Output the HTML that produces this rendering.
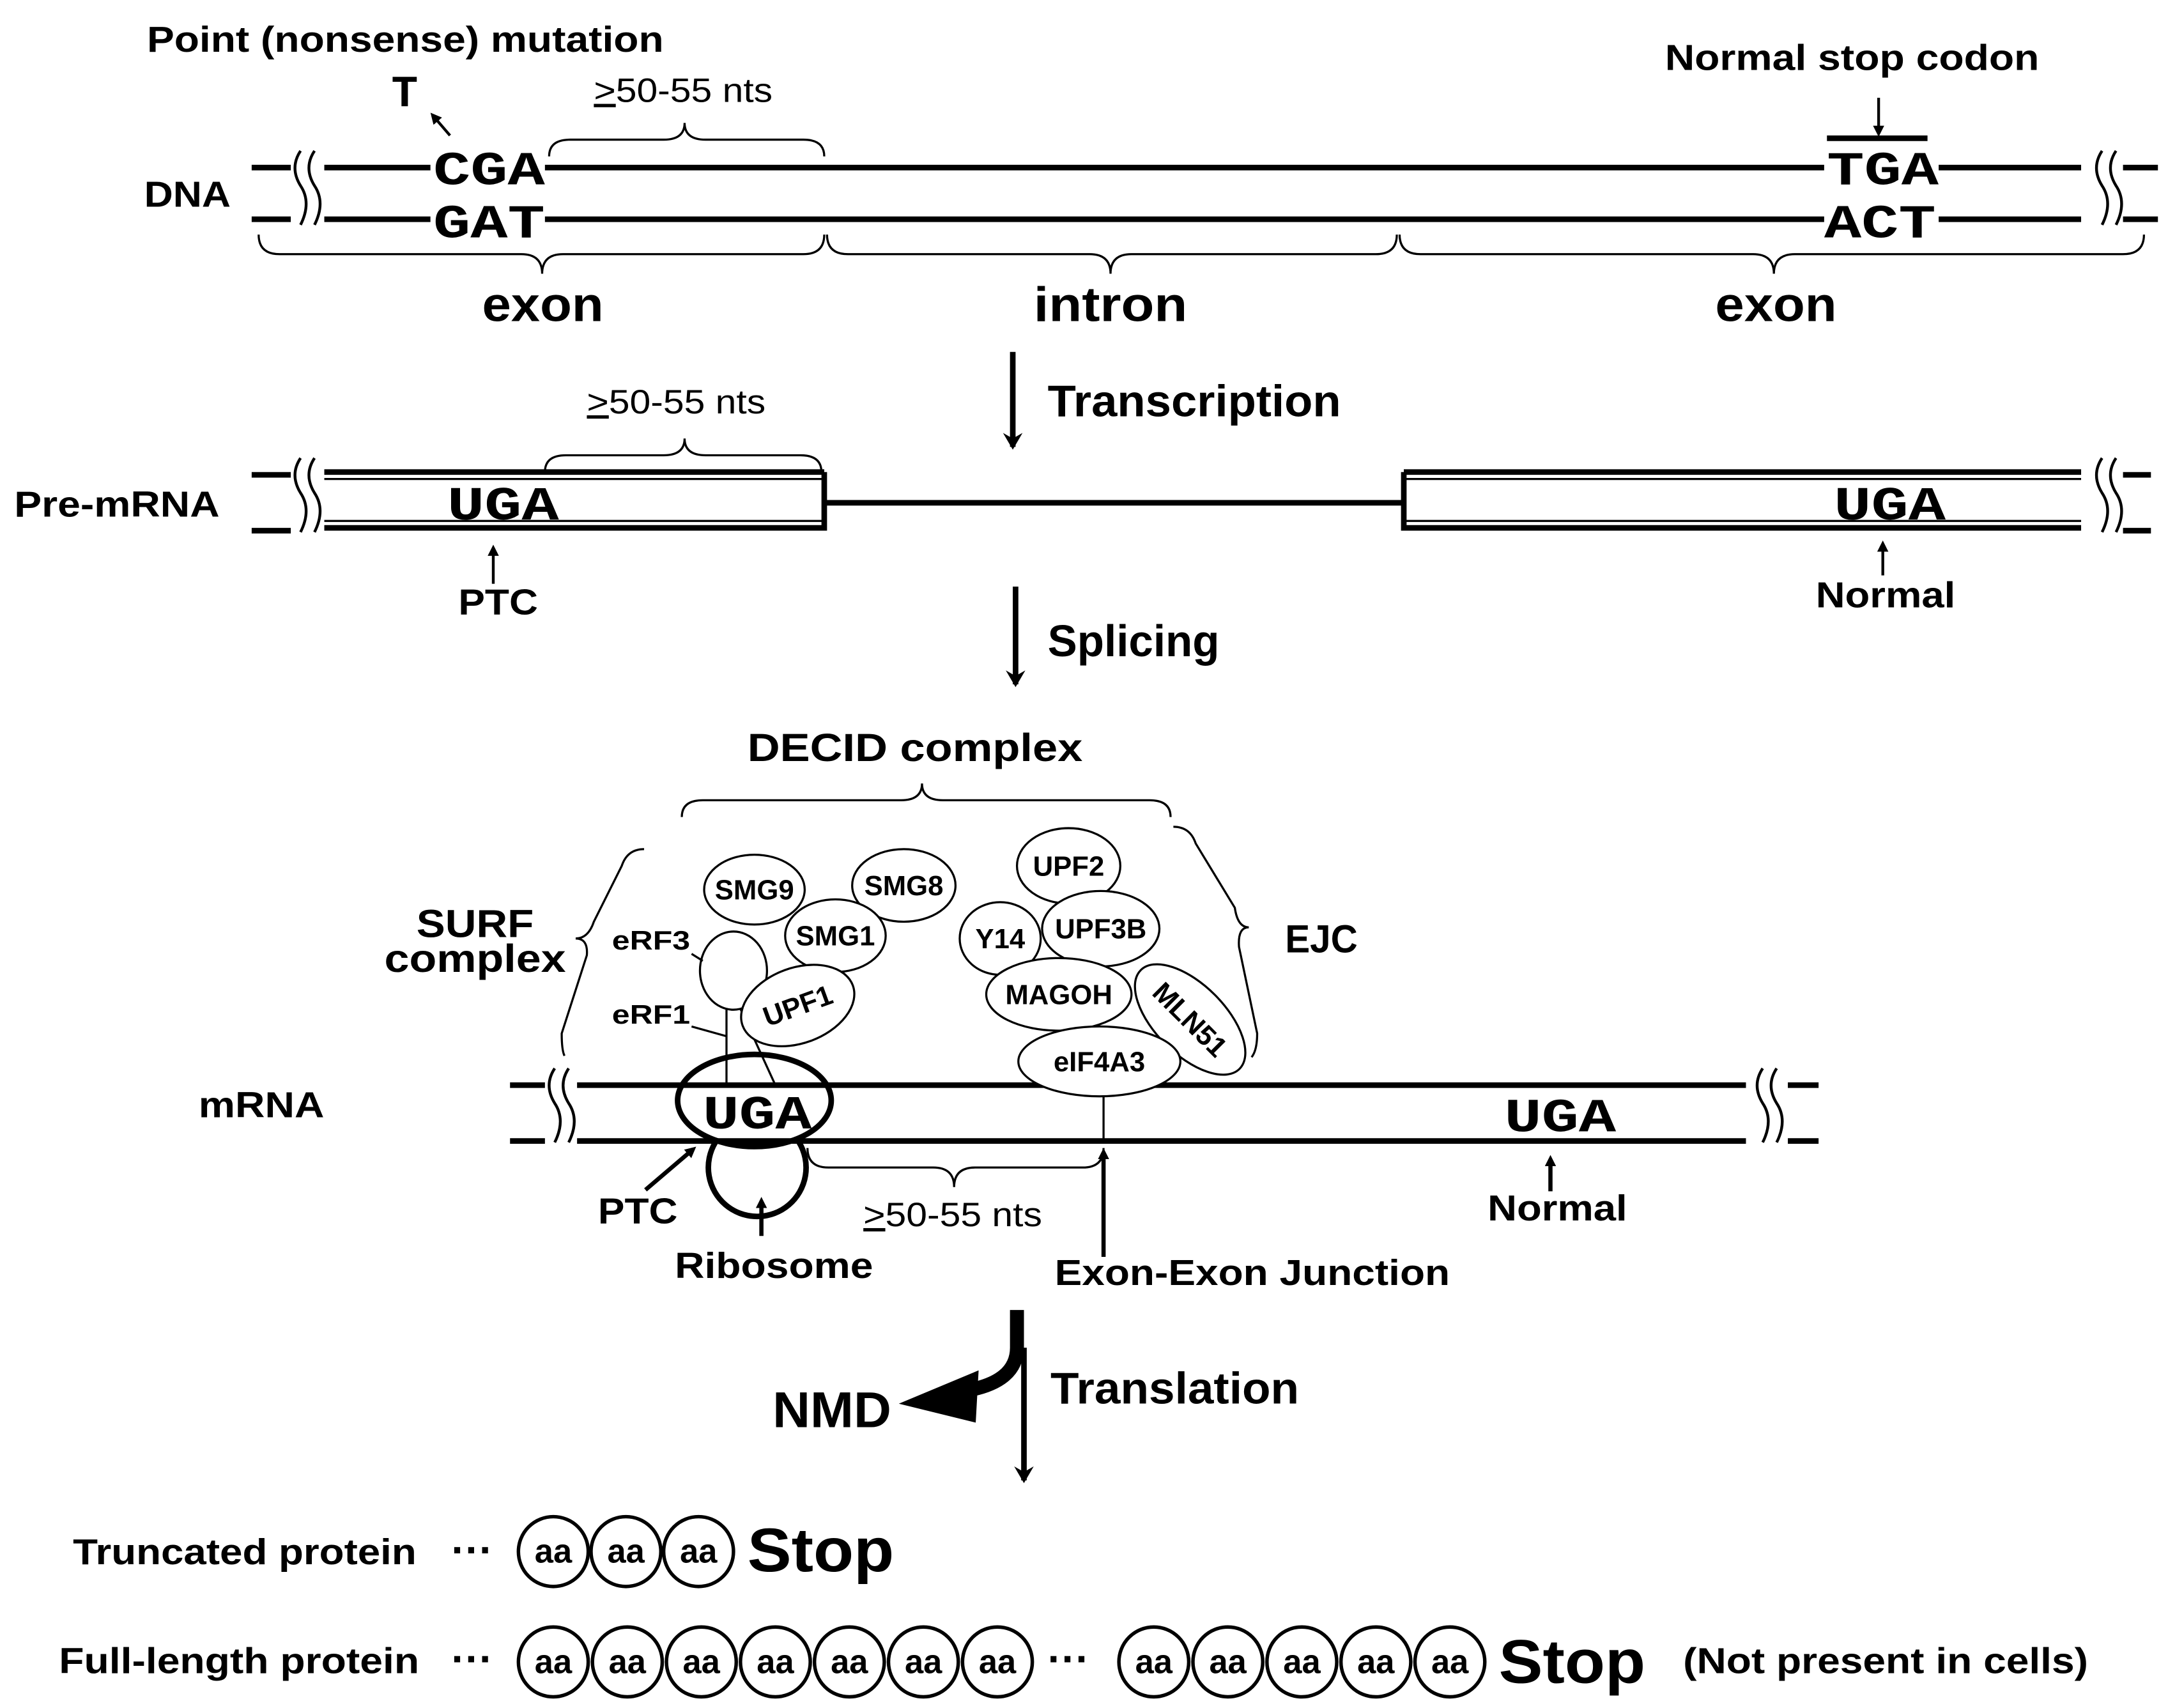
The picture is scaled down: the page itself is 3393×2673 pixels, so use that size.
<!DOCTYPE html>
<html><head><meta charset="utf-8"><style>html,body{margin:0;padding:0;background:#fff}svg{display:block}
text{font-family:"Liberation Sans",sans-serif;font-weight:bold;fill:#000}
.m{font-family:"Liberation Mono",monospace;font-weight:bold}
.n{font-weight:normal}</style></head><body>
<svg width="3393" height="2673" viewBox="0 0 1552 1223" xmlns="http://www.w3.org/2000/svg">
<defs><marker id="a" markerWidth="8" markerHeight="8" refX="5" refY="4" orient="auto" markerUnits="userSpaceOnUse"><path d="M0,0 L8,4 L0,8 Z" fill="#000"/></marker>
<marker id="b" markerWidth="14" markerHeight="14" refX="10" refY="7" orient="auto" markerUnits="userSpaceOnUse"><path d="M0,0 L12,7 L0,14 L4,7Z" fill="#000"/></marker></defs>
<g stroke="#000" fill="none">
<!-- DNA -->
<line x1="180" y1="120" x2="208" y2="120" stroke-width="4"/><line x1="232" y1="120" x2="1490" y2="120" stroke-width="4"/><line x1="1520" y1="120" x2="1545" y2="120" stroke-width="4"/>
<line x1="180" y1="157" x2="208" y2="157" stroke-width="4"/><line x1="232" y1="157" x2="1490" y2="157" stroke-width="4"/><line x1="1520" y1="157" x2="1545" y2="157" stroke-width="4"/>
<path d="M215,108 q-8,12 0,25 q8,12 0,28 M225,108 q-8,12 0,25 q8,12 0,28" stroke-width="2"/>
<path d="M1505,108 q-8,12 0,25 q8,12 0,28 M1515,108 q-8,12 0,25 q8,12 0,28" stroke-width="2"/>
<rect x="308" y="104" width="82" height="30" fill="#fff" stroke="none"/><rect x="308" y="141" width="82" height="30" fill="#fff" stroke="none"/>
<rect x="1306" y="104" width="82" height="30" fill="#fff" stroke="none"/><rect x="1306" y="141" width="82" height="30" fill="#fff" stroke="none"/>
<line x1="1308" y1="99" x2="1380" y2="99" stroke-width="4"/>
<line x1="1345" y1="70" x2="1345" y2="95" stroke-width="2" marker-end="url(#a)"/>
<line x1="322" y1="97" x2="310" y2="83" stroke-width="2" marker-end="url(#a)"/>
<path d="M393,112 q0,-12 15,-12 h67 q15,0 15,-12 q0,12 15,12 h70 q15,0 15,12" stroke-width="1.5"/>
<path d="M185,168 q0,14 15,14 h173 q15,0 15,14 q0,-14 15,-14 h172 q15,0 15,-14" stroke-width="1.5"/>
<path d="M592,168 q0,14 15,14 h173 q15,0 15,14 q0,-14 15,-14 h175 q15,0 15,-14" stroke-width="1.5"/>
<path d="M1002,168 q0,14 15,14 h238 q15,0 15,14 q0,-14 15,-14 h235 q15,0 15,-14" stroke-width="1.5"/>
<line x1="725" y1="252" x2="725" y2="320" stroke-width="4" marker-end="url(#b)"/>
<!-- Pre-mRNA -->
<line x1="180" y1="340" x2="208" y2="340" stroke-width="4"/><line x1="180" y1="380" x2="208" y2="380" stroke-width="4"/>
<line x1="1520" y1="340" x2="1540" y2="340" stroke-width="4"/><line x1="1520" y1="380" x2="1540" y2="380" stroke-width="4"/>
<path d="M215,328 q-8,12 0,25 q8,12 0,28 M225,328 q-8,12 0,25 q8,12 0,28" stroke-width="2"/>
<path d="M1505,328 q-8,12 0,25 q8,12 0,28 M1515,328 q-8,12 0,25 q8,12 0,28" stroke-width="2"/>
<line x1="232" y1="338" x2="590" y2="338" stroke-width="4"/><line x1="232" y1="343" x2="590" y2="343" stroke-width="1.5"/>
<line x1="232" y1="378" x2="590" y2="378" stroke-width="4"/><line x1="232" y1="373" x2="590" y2="373" stroke-width="1.5"/>
<line x1="590" y1="338" x2="590" y2="380" stroke-width="4"/>
<line x1="590" y1="360" x2="1005" y2="360" stroke-width="4"/>
<line x1="1005" y1="338" x2="1005" y2="380" stroke-width="4"/>
<line x1="1005" y1="338" x2="1490" y2="338" stroke-width="4"/><line x1="1005" y1="343" x2="1490" y2="343" stroke-width="1.5"/>
<line x1="1005" y1="378" x2="1490" y2="378" stroke-width="4"/><line x1="1005" y1="373" x2="1490" y2="373" stroke-width="1.5"/>
<path d="M390,338 q0,-12 15,-12 h70 q15,0 15,-12 q0,12 15,12 h68 q15,0 15,12" stroke-width="1.5"/>
<line x1="353" y1="418" x2="353" y2="393" stroke-width="2" marker-end="url(#a)"/>
<line x1="1348" y1="412" x2="1348" y2="390" stroke-width="2" marker-end="url(#a)"/>
<line x1="727" y1="420" x2="727" y2="490" stroke-width="4" marker-end="url(#b)"/>
<!-- complex braces -->
<path d="M488,585 q0,-12 15,-12 h142 q15,0 15,-12 q0,12 15,12 h148 q15,0 15,12" stroke-width="1.5"/>
<path d="M461,608 q-12,0 -16,12 L425,660 q-4,12 -13,12 q9,0 8,12 L402,740 q0,12 2,16" stroke-width="1.5"/>
<path d="M840,592 q12,0 16,12 L884,650 q2,14 10,14 q-8,0 -7,14 L900,740 q0,12 -4,17" stroke-width="1.5"/>
<!-- mRNA -->
<line x1="365" y1="777" x2="390" y2="777" stroke-width="4"/><line x1="365" y1="817" x2="390" y2="817" stroke-width="4"/>
<line x1="1280" y1="777" x2="1302" y2="777" stroke-width="4"/><line x1="1280" y1="817" x2="1302" y2="817" stroke-width="4"/>
<path d="M397,765 q-8,12 0,25 q8,12 0,28 M407,765 q-8,12 0,25 q8,12 0,28" stroke-width="2"/>
<path d="M1262,765 q-8,12 0,25 q8,12 0,28 M1272,765 q-8,12 0,25 q8,12 0,28" stroke-width="2"/>
<line x1="413" y1="777" x2="1250" y2="777" stroke-width="4"/><line x1="413" y1="817" x2="1250" y2="817" stroke-width="4"/>
<path d="M512,818 A35,35 0 1,0 572,818" stroke-width="4"/>
<ellipse cx="540" cy="788" rx="55" ry="33" stroke-width="4"/>
<line x1="520" y1="720" x2="520" y2="777" stroke-width="1.5"/>
<path d="M528,718 L555,777" stroke-width="1.5"/>
<ellipse cx="525" cy="695" rx="24" ry="28" stroke-width="1.5" fill="#fff"/>
<line x1="495" y1="683" x2="503" y2="688" stroke-width="1.5"/><line x1="495" y1="735" x2="520" y2="742" stroke-width="1.5"/>
<line x1="790" y1="780" x2="790" y2="817" stroke-width="1.5"/>
<path d="M578,822 q0,14 15,14 h75 q15,0 15,14 q0,-14 15,-14 h77 q15,0 15,-14" stroke-width="1.5"/>
<line x1="462" y1="852" x2="496" y2="823" stroke-width="3" marker-end="url(#a)"/>
<line x1="545" y1="885" x2="545" y2="860" stroke-width="3" marker-end="url(#a)"/>
<line x1="790" y1="900" x2="790" y2="825" stroke-width="3" marker-end="url(#a)"/>
<line x1="1110" y1="853" x2="1110" y2="830" stroke-width="3" marker-end="url(#a)"/>
<!-- ellipses -->
<g stroke-width="1.5" fill="#fff">
<ellipse cx="540" cy="637" rx="36" ry="25"/><ellipse cx="647" cy="634" rx="37" ry="26"/>
<ellipse cx="598" cy="670" rx="36" ry="26"/><ellipse cx="765" cy="620" rx="37" ry="27"/>
<ellipse cx="716" cy="672" rx="29" ry="26"/><ellipse cx="788" cy="665" rx="42" ry="27"/>
<ellipse cx="758" cy="712" rx="52" ry="26"/>
<ellipse cx="852" cy="730" rx="50" ry="25" transform="rotate(45 852 730)"/>
<ellipse cx="571" cy="720" rx="42" ry="27" transform="rotate(-20 571 720)"/>
<ellipse cx="787" cy="760" rx="58" ry="25"/></g>
<!-- translation -->
<path d="M728,938 V965 Q728,990 690,996" stroke-width="10"/>
<path d="M700,982 L645,1005 L698,1018 Z" fill="#000" stroke-width="1"/>
<line x1="733" y1="965" x2="733" y2="1060" stroke-width="4" marker-end="url(#b)"/>
<!-- aa -->
<g stroke-width="2.5"><circle cx="396" cy="1111" r="25"/><circle cx="448" cy="1111" r="25"/><circle cx="500" cy="1111" r="25"/>
<circle cx="396" cy="1190" r="25"/><circle cx="449" cy="1190" r="25"/><circle cx="502" cy="1190" r="25"/><circle cx="555" cy="1190" r="25"/><circle cx="608" cy="1190" r="25"/><circle cx="661" cy="1190" r="25"/><circle cx="714" cy="1190" r="25"/>
<circle cx="826" cy="1190" r="25"/><circle cx="879" cy="1190" r="25"/><circle cx="932" cy="1190" r="25"/><circle cx="985" cy="1190" r="25"/><circle cx="1038" cy="1190" r="25"/></g>
</g>
<g lengthAdjust="spacingAndGlyphs">
<text x="105" y="37" font-size="26" textLength="370" lengthAdjust="spacingAndGlyphs">Point (nonsense) mutation</text>
<text x="280" y="76" font-size="32" class="m">T</text>
<text x="425" y="73" font-size="24" class="n" textLength="128" lengthAdjust="spacingAndGlyphs"><tspan text-decoration="underline">&gt;</tspan>50-55 nts</text>
<text x="1192" y="50" font-size="26" textLength="268" lengthAdjust="spacingAndGlyphs">Normal stop codon</text>
<text x="103" y="148" font-size="26" textLength="62" lengthAdjust="spacingAndGlyphs">DNA</text>
<text x="310" y="132" font-size="34" class="m" textLength="80" lengthAdjust="spacingAndGlyphs">CGA</text><text x="310" y="170" font-size="34" class="m" textLength="80" lengthAdjust="spacingAndGlyphs">GAT</text>
<text x="1308" y="132" font-size="34" class="m" textLength="80" lengthAdjust="spacingAndGlyphs">TGA</text><text x="1306" y="170" font-size="34" class="m" textLength="80" lengthAdjust="spacingAndGlyphs">ACT</text>
<text x="345" y="230" font-size="35" textLength="87" lengthAdjust="spacingAndGlyphs">exon</text><text x="740" y="230" font-size="35" textLength="110" lengthAdjust="spacingAndGlyphs">intron</text><text x="1228" y="230" font-size="35" textLength="87" lengthAdjust="spacingAndGlyphs">exon</text>
<text x="750" y="298" font-size="32" textLength="210" lengthAdjust="spacingAndGlyphs">Transcription</text>
<text x="10" y="370" font-size="26" textLength="147" lengthAdjust="spacingAndGlyphs">Pre-mRNA</text>
<text x="320" y="372" font-size="34" class="m" textLength="80" lengthAdjust="spacingAndGlyphs">UGA</text><text x="1313" y="372" font-size="34" class="m" textLength="80" lengthAdjust="spacingAndGlyphs">UGA</text>
<text x="420" y="296" font-size="24" class="n" textLength="128" lengthAdjust="spacingAndGlyphs"><tspan text-decoration="underline">&gt;</tspan>50-55 nts</text>
<text x="328" y="440" font-size="26" textLength="57" lengthAdjust="spacingAndGlyphs">PTC</text><text x="1300" y="435" font-size="26" textLength="100" lengthAdjust="spacingAndGlyphs">Normal</text>
<text x="750" y="470" font-size="32" textLength="123" lengthAdjust="spacingAndGlyphs">Splicing</text>
<text x="535" y="545" font-size="28" textLength="240" lengthAdjust="spacingAndGlyphs">DECID complex</text>
<text x="298" y="671" font-size="28" textLength="84" lengthAdjust="spacingAndGlyphs">SURF</text><text x="275" y="696" font-size="28" textLength="130" lengthAdjust="spacingAndGlyphs">complex</text>
<text x="920" y="682" font-size="28" textLength="52" lengthAdjust="spacingAndGlyphs">EJC</text>
<text x="438" y="680" font-size="19" textLength="56" lengthAdjust="spacingAndGlyphs">eRF3</text><text x="438" y="733" font-size="19" textLength="56" lengthAdjust="spacingAndGlyphs">eRF1</text>
<g font-size="20" text-anchor="middle"><text x="540" y="644">SMG9</text><text x="647" y="641">SMG8</text><text x="598" y="677">SMG1</text><text x="765" y="627">UPF2</text><text x="716" y="679">Y14</text><text x="788" y="672">UPF3B</text><text x="758" y="719">MAGOH</text><text x="852" y="737" transform="rotate(45 852 730)">MLN51</text><text x="571" y="727" transform="rotate(-20 571 720)">UPF1</text><text x="787" y="767">eIF4A3</text></g>
<text x="142" y="800" font-size="26" textLength="90" lengthAdjust="spacingAndGlyphs">mRNA</text>
<text x="503" y="808" font-size="34" class="m" textLength="78" lengthAdjust="spacingAndGlyphs">UGA</text><text x="1077" y="810" font-size="34" class="m" textLength="80" lengthAdjust="spacingAndGlyphs">UGA</text>
<text x="618" y="878" font-size="24" class="n" textLength="128" lengthAdjust="spacingAndGlyphs"><tspan text-decoration="underline">&gt;</tspan>50-55 nts</text>
<text x="428" y="876" font-size="26" textLength="57" lengthAdjust="spacingAndGlyphs">PTC</text><text x="483" y="915" font-size="26" textLength="142" lengthAdjust="spacingAndGlyphs">Ribosome</text>
<text x="755" y="920" font-size="26" textLength="283" lengthAdjust="spacingAndGlyphs">Exon-Exon Junction</text><text x="1065" y="874" font-size="26" textLength="100" lengthAdjust="spacingAndGlyphs">Normal</text>
<text x="553" y="1022" font-size="36" textLength="85" lengthAdjust="spacingAndGlyphs">NMD</text><text x="752" y="1005" font-size="32" textLength="178" lengthAdjust="spacingAndGlyphs">Translation</text>
<text x="52" y="1120" font-size="26" textLength="246" lengthAdjust="spacingAndGlyphs">Truncated protein</text><text x="323" y="1120" font-size="30">···</text>
<g font-size="24" class="n" text-anchor="middle"><text x="396" y="1119">aa</text><text x="448" y="1119">aa</text><text x="500" y="1119">aa</text>
<text x="396" y="1198">aa</text><text x="449" y="1198">aa</text><text x="502" y="1198">aa</text><text x="555" y="1198">aa</text><text x="608" y="1198">aa</text><text x="661" y="1198">aa</text><text x="714" y="1198">aa</text>
<text x="826" y="1198">aa</text><text x="879" y="1198">aa</text><text x="932" y="1198">aa</text><text x="985" y="1198">aa</text><text x="1038" y="1198">aa</text></g>
<text x="535" y="1125" font-size="44" textLength="105" lengthAdjust="spacingAndGlyphs">Stop</text>
<text x="42" y="1198" font-size="26" textLength="258" lengthAdjust="spacingAndGlyphs">Full-length protein</text><text x="323" y="1198" font-size="30">···</text><text x="750" y="1198" font-size="30">···</text>
<text x="1073" y="1205" font-size="44" textLength="105" lengthAdjust="spacingAndGlyphs">Stop</text><text x="1205" y="1198" font-size="26" textLength="290" lengthAdjust="spacingAndGlyphs">(Not present in cells)</text>
</g>
</svg></body></html>
